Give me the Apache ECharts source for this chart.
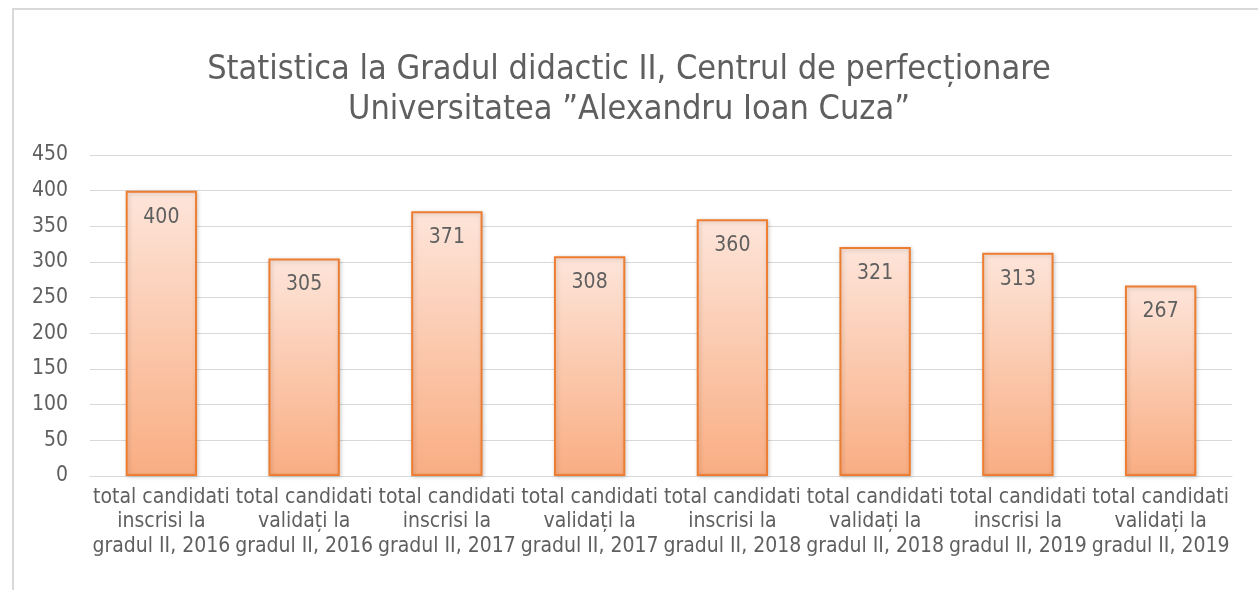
<!DOCTYPE html>
<html>
<head>
<meta charset="utf-8">
<script src="https://cdn.jsdelivr.net/npm/echarts@6/dist/echarts.min.js"></script>
<style>
  html, body { margin: 0; padding: 0; background: #fff; }
  #main { width: 1258px; height: 590px; }
</style>
</head>
<body>
<div id="main"></div>
<script>
const titleLines = ['Statistica la Gradul didactic II, Centrul de perfecționare', 'Universitatea ”Alexandru Ioan Cuza”'];
const categories = [
  'total candidati\ninscrisi la\ngradul II, 2016',
  'total candidati\nvalidați la\ngradul II, 2016',
  'total candidati\ninscrisi la\ngradul II, 2017',
  'total candidati\nvalidați la\ngradul II, 2017',
  'total candidati\ninscrisi la\ngradul II, 2018',
  'total candidati\nvalidați la\ngradul II, 2018',
  'total candidati\ninscrisi la\ngradul II, 2019',
  'total candidati\nvalidați la\ngradul II, 2019'
];
const values = [400, 305, 371, 308, 360, 321, 313, 267];

const FONT = '"DejaVu Sans Condensed", "Liberation Sans Narrow", "Open Sans", sans-serif';
const TXT = '#5f5f5f';

window.onload = function () {
  const chartDom = document.getElementById('main');
  const myChart = echarts.init(chartDom);

  const option = {
    animation: false,
    textStyle: { fontFamily: FONT },
    graphic: [{
      type: 'rect',
      shape: { x: 13, y: 9, width: 1260, height: 600 },
      style: { fill: 'none', stroke: '#d9d9d9', lineWidth: 2 },
      silent: true
    }],
    title: {
      text: titleLines.join('\n'),
      left: 'center',
      top: 45,
      textStyle: { fontFamily: FONT, fontSize: 34, fontWeight: 'normal', color: TXT, lineHeight: 40 }
    },
    grid: { left: 90, right: 26, top: 155, bottom: 114 },
    xAxis: {
      type: 'category',
      data: categories,
      axisLine: { lineStyle: { color: '#d9d9d9', width: 1 } },
      axisTick: { show: false },
      axisLabel: { color: TXT, fontSize: 21, lineHeight: 24.5, margin: 9, interval: 0, fontFamily: FONT }
    },
    yAxis: {
      type: 'value',
      min: 0,
      max: 450,
      interval: 50,
      axisLine: { show: false },
      axisTick: { show: false },
      splitLine: { lineStyle: { color: '#d9d9d9', width: 1 } },
      axisLabel: { color: TXT, fontSize: 21, margin: 22, fontFamily: FONT }
    },
    series: [{
      type: 'bar',
      data: values,
      barWidth: '50%',
      itemStyle: {
        color: new echarts.graphic.LinearGradient(0, 0, 0, 1, [
          { offset: 0, color: '#fde5da' },
          { offset: 1, color: '#f9ad82' }
        ]),
        borderColor: '#ed7d31',
        borderWidth: 2,
        shadowColor: 'rgba(0,0,0,0.18)',
        shadowBlur: 4,
        shadowOffsetX: 1,
        shadowOffsetY: 1
      },
      label: {
        show: true,
        position: 'insideTop',
        distance: 16,
        color: TXT,
        fontSize: 21,
        fontFamily: FONT
      }
    }]
  };

  option && myChart.setOption(option);
};
</script>
</body>
</html>
